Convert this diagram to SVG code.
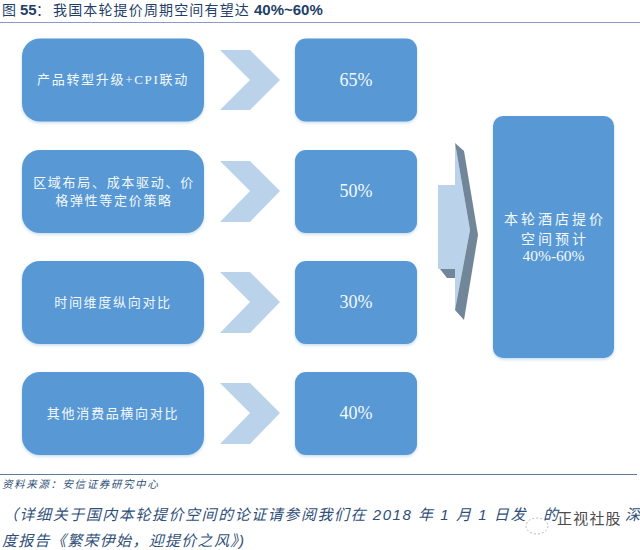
<svg xmlns="http://www.w3.org/2000/svg" width="640" height="550" viewBox="0 0 640 550">
<style>
.serif{font-family:"Liberation Serif","Noto Sans CJK SC",serif;fill:#f3f8fc;text-anchor:middle}
.lab{font-size:13px;letter-spacing:1.7px}
.val{font-size:18px}
.big{font-size:14px;letter-spacing:3px}
.box{fill:#5898d4;filter:url(#s)}
.chev{fill:#bad2ea}
.title{font-family:"Liberation Sans","Noto Sans CJK SC",sans-serif;font-size:14px;fill:#1f3f68}
.src{font-family:"Liberation Sans","Noto Sans CJK SC",sans-serif;font-style:italic;fill:#2f4f78}
.wm{font-family:"Liberation Sans","Noto Sans CJK SC",sans-serif;font-size:15px;fill:#4c4c4c}
</style>
<defs>
<filter id="s" x="-10%" y="-10%" width="120%" height="125%"><feDropShadow dx="0" dy="1.5" stdDeviation="1.5" flood-color="#5b9bd5" flood-opacity="0.35"/></filter>
</defs>
<rect width="640" height="550" fill="#fff"/>
<g id="title">
<text class="title" y="15"><tspan x="2">图</tspan><tspan x="20" font-weight="bold" font-size="15">55</tspan><tspan x="36">：</tspan><tspan x="53" letter-spacing="1.15">我国本轮提价周期空间有望达</tspan><tspan x="254" font-weight="bold" font-size="15">40%~60%</tspan></text>
<line x1="0" y1="22.5" x2="640" y2="22.5" stroke="#8a9cc4" stroke-width="1"/>
</g>
<g id="connectors">
<polygon class="chev" points="220,50 250,50 280,80 250,110 220,110 250,80"/>
<polygon class="chev" points="220,161 250,161 280,191 250,222 220,222 250,191"/>
<polygon class="chev" points="220,272 250,272 280,302 250,333 220,333 250,302"/>
<polygon class="chev" points="220,383 250,383 280,413 250,444 220,444 250,413"/>
</g>
<g id="bigarrow">
<polygon fill="#bad2ea" points="438,185 455,185 455,143 470,230 455,310 455,269 438,269"/>
<polygon fill="#72869a" points="455,143 464,151 478,235 464,320 455,310 470,230"/>
<polygon fill="#72869a" points="440,269 455,269 455,278 447,278"/>
</g>
<g id="n1"><rect class="box" x="22" y="38.5" width="182" height="83" rx="18"/><text class="serif lab" x="113" y="84">产品转型升级+CPI联动</text></g>
<g id="n2"><rect class="box" x="22" y="150" width="182" height="83" rx="18"/><text class="serif lab"><tspan x="114" y="187">区域布局、成本驱动、价</tspan><tspan x="114" y="205">格弹性等定价策略</tspan></text></g>
<g id="n3"><rect class="box" x="22" y="261" width="182" height="83" rx="18"/><text class="serif lab" x="113" y="307">时间维度纵向对比</text></g>
<g id="n4"><rect class="box" x="22" y="372" width="182" height="83" rx="18"/><text class="serif lab" x="113" y="418">其他消费品横向对比</text></g>
<g id="v1"><rect class="box" x="295" y="38.5" width="122" height="83" rx="11"/><text class="serif val" x="356" y="86">65%</text></g>
<g id="v2"><rect class="box" x="295" y="150" width="122" height="83" rx="11"/><text class="serif val" x="356" y="197">50%</text></g>
<g id="v3"><rect class="box" x="295" y="261" width="122" height="83" rx="11"/><text class="serif val" x="356" y="308">30%</text></g>
<g id="v4"><rect class="box" x="295" y="372" width="122" height="83" rx="11"/><text class="serif val" x="356" y="419">40%</text></g>
<g id="total"><rect class="box" x="493" y="116" width="121" height="242" rx="10"/><text class="serif big"><tspan x="555" y="224">本轮酒店提价</tspan><tspan x="555" y="244">空间预计</tspan><tspan x="553.5" y="261" font-size="15.5" letter-spacing="0">40%-60%</tspan></text></g>
<g id="footer">
<line x1="0" y1="474.5" x2="637" y2="474.5" stroke="#5f7a96" stroke-width="1.2"/>
<text class="src" x="2" y="488" font-size="10.5" letter-spacing="1.6">资料来源：安信证券研究中心</text>
<text class="src" x="3" y="520" font-size="15" letter-spacing="1.55">（详细关于国内本轮提价空间的论证请参阅我们在 2018 年 1 月 1 日发</text>
<text class="src" x="543" y="520" font-size="15">的</text>
<text class="src" x="625" y="520" font-size="15">深</text>
<text class="src" x="2" y="546" font-size="15" letter-spacing="1.3">度报告《繁荣伊始，迎提价之风》)</text>
</g>
<g id="watermark">
<ellipse cx="537" cy="526" rx="11" ry="8" fill="#fff" stroke="#999" stroke-width="0.7" stroke-dasharray="2 2"/>
<text class="wm" x="557" y="524" letter-spacing="1.2">正视社股</text>
</g>
</svg>
